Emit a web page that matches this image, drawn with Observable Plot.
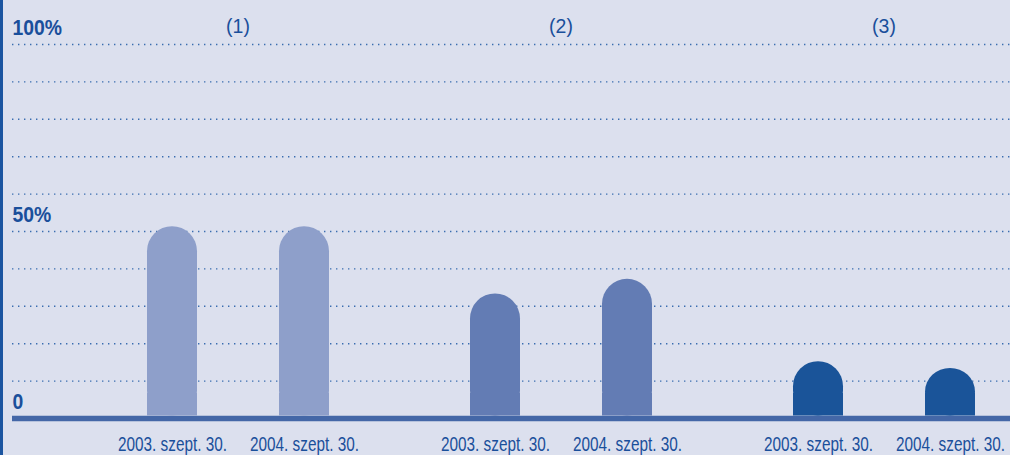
<!DOCTYPE html>
<html>
<head>
<meta charset="utf-8">
<script src="https://cdn.jsdelivr.net/npm/d3@7"></script>
<script src="https://cdn.jsdelivr.net/npm/@observablehq/plot@0.6"></script>
<style>
  html, body { margin: 0; padding: 0; background: #dce0ee; }
  #chart { position: relative; width: 1010px; height: 455px; background: #dce0ee; box-shadow: inset 3px 0 0 #1b55a0; overflow: hidden; }
  #chart svg { position: absolute; left: 0; top: 0; background: transparent; display: block; }
</style>
</head>
<body>
<div id="chart"></div>
<script>
// Data
const groups = ["(1)", "(2)", "(3)"];
const dates = ["2003. szept. 30.", "2004. szept. 30."];
const values1 = [51.3, 51.3];
const values2 = [33.3, 37.2];
const values3 = [15.2, 13.4];
const gridTicks = [10, 20, 30, 40, 50, 60, 70, 80, 90, 100];
const yLabelValues = [100, 50, 0];
const yLabelTexts = ["100%", "50%", "0"];
const groupColors = ["#8e9fca", "#637cb4", "#1a5499"];

const series = [values1, values2, values3];
const data = groups.flatMap((g, gi) => dates.map((d, di) => ({group: g, date: d, value: series[gi][di]})));
const yLabels = yLabelValues.map((v, i) => ({value: v, label: yLabelTexts[i]}));

const textColor = "#1a4f9b";
const font = "'Liberation Sans', Arial, sans-serif";

const common = {
  width: 1010,
  height: 455,
  marginTop: 44,
  marginBottom: 37,
  marginLeft: 12,
  marginRight: 0,
  style: {background: "transparent", fontFamily: font},
  y: {domain: [0, 100], axis: null}
};

// Background layer: grid, baseline, y labels
const back = Plot.plot({
  ...common,
  marks: [
    Plot.ruleY(gridTicks, {stroke: "#3a6db0", strokeWidth: 1.4, strokeDasharray: "1.4,4.6"}),
    Plot.ruleY([0], {stroke: "#4467a7", strokeWidth: 5.3}),
    Plot.text(yLabels, {y: "value", text: "label", frameAnchor: "left", textAnchor: "start", lineAnchor: "middle", dy: -17, fontSize: 22, fontWeight: "bold", fill: textColor, className: "ylab"})
  ]
});

// Foreground layer: grouped bars and labels
const front = Plot.plot({
  ...common,
  fx: {domain: groups, range: [74.5, 1046.3], padding: 0, axis: null},
  x: {domain: dates, paddingInner: 0.6226, paddingOuter: 0.534, axis: null},
  color: {domain: groups, range: groupColors},
  marks: [
    Plot.barY(data, {fx: "group", x: "date", y1: 0, y2: "value", fill: "group", rx: 25, insetBottom: 2.5}),
    Plot.barY(data, {fx: "group", x: "date", y1: 0, y2: 0, insetTop: -25, insetBottom: 2.5, fill: "group"}),
    Plot.text(groups, {fx: d => d, text: d => d, frameAnchor: "top", lineAnchor: "middle", dy: -18, fontSize: 20.5, fill: textColor, className: "glab"}),
    Plot.text(data, {fx: "group", x: "date", text: "date", frameAnchor: "bottom", lineAnchor: "middle", dy: 26, fontSize: 21, fill: textColor, className: "xlab"})
  ]
});

const el = document.getElementById("chart");
el.appendChild(back);
el.appendChild(front);

// Condensed type (the reference uses a condensed face): squeeze glyphs horizontally
function condense(selector, factor) {
  el.querySelectorAll(selector + " text").forEach(t => {
    const tr = t.getAttribute("transform") || "";
    t.setAttribute("transform", (tr + ` scale(${factor},1)`).trim());
  });
}
condense(".xlab", 0.73);
condense(".ylab", 0.88);
condense(".glab", 0.95);
</script>
</body>
</html>
